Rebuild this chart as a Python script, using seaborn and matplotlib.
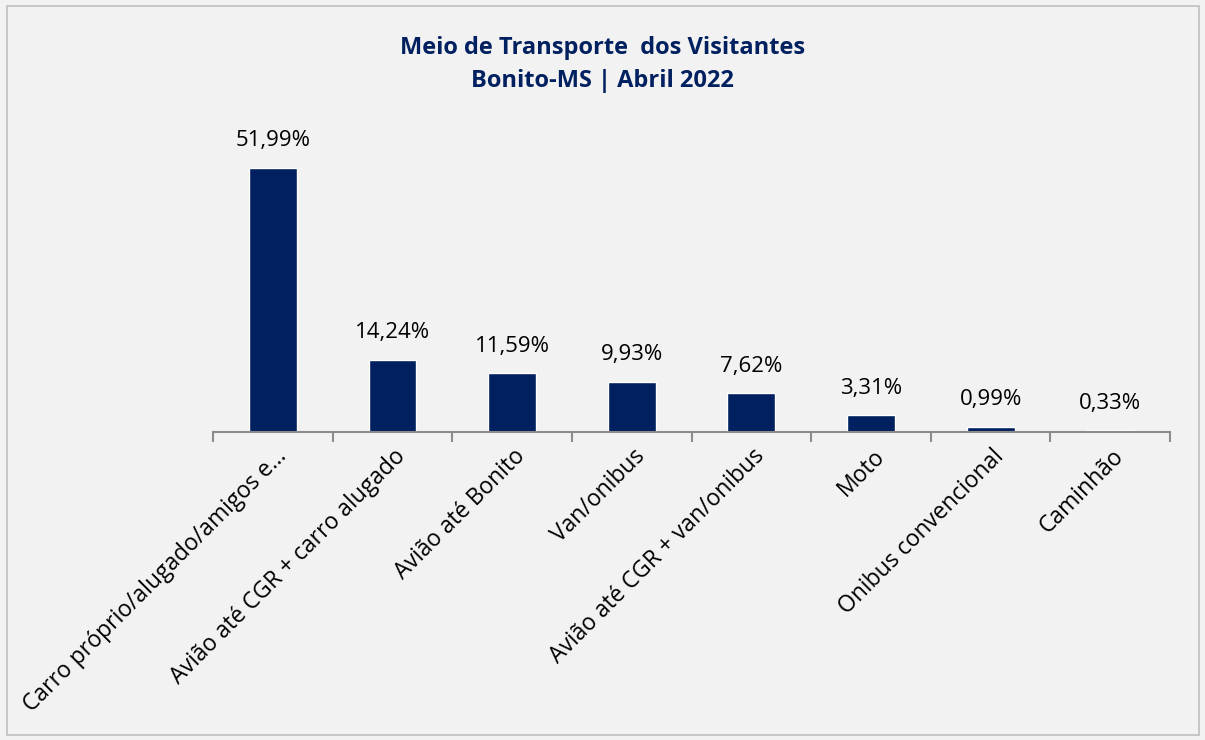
# Imports
import pandas as pd
import seaborn as sns
import matplotlib.pyplot as plt
import matplotlib.transforms as mtransforms
from matplotlib.patches import Rectangle

# Data
categorias = ["Carro próprio/alugado/amigos e...", "Avião até CGR + carro alugado", "Avião até Bonito",
              "Van/onibus", "Avião até CGR + van/onibus", "Moto", "Onibus convencional", "Caminhão"]
percentuais = [51.99, 14.24, 11.59, 9.93, 7.62, 3.31, 0.99, 0.33]

df = pd.DataFrame({'categoria': categorias, 'pct': percentuais})

sns.set_style("white")
plt.rcParams['font.family'] = ['Open Sans', 'DejaVu Sans']

fig = plt.figure(figsize=(12.05, 7.4), dpi=100, facecolor='#f2f2f2')
fig.patches.append(Rectangle((0.006, 0.007), 0.989, 0.985, transform=fig.transFigure,
                             fill=False, edgecolor='#bfbfbf', linewidth=1.2))
ax = fig.add_axes([0.1768, 0.4162, 0.7942, 0.412])
ax.set_facecolor('#f2f2f2')

sns.barplot(data=df, x='categoria', y='pct', color='#002060', width=0.4, saturation=1, ax=ax)

# data labels
for i, v in enumerate(percentuais):
	ax.annotate('{:.2f}%'.format(v).replace('.', ','), (i, v), xytext=(0, 19.5), textcoords='offset points',
	            ha='center', va='center', fontsize=16, color='#000000')

ax.set_ylim(0, 60)
ax.set_xlim(-0.5, len(categorias) - 0.5)
for s in ['top', 'right', 'left']:
	ax.spines[s].set_visible(False)
ax.spines['bottom'].set_color('#8c8c8c')
ax.spines['bottom'].set_linewidth(1.5)
ax.set_yticks([])
ax.set_xlabel('')
ax.set_ylabel('')

# separator ticks between categories
ax.set_xticks([i - 0.5 for i in range(len(categorias) + 1)])
ax.set_xticklabels([])
ax.tick_params(axis='x', which='major', bottom=True, length=7, width=1.5, color='#8c8c8c', direction='out')
ax.set_xticks(range(len(categorias)), minor=True)
ax.set_xticklabels(categorias, minor=True, rotation=45, ha='right', va='center', rotation_mode='anchor',
                   fontsize=16.5, color='#000000')
ax.tick_params(axis='x', which='minor', bottom=True, length=0, pad=15)
shift = mtransforms.ScaledTranslation(10 / 100, 0, fig.dpi_scale_trans)
for lbl in ax.get_xticklabels(minor=True):
	lbl.set_transform(lbl.get_transform() + shift)

fig.text(0.5, 0.935, "Meio de Transporte  dos Visitantes", ha='center', va='center',
         fontsize=17, fontweight='bold', color='#002060')
fig.text(0.5, 0.89, "Bonito-MS | Abril 2022", ha='center', va='center',
         fontsize=17, fontweight='bold', color='#002060')

plt.savefig('out.png', dpi=100, facecolor='#f2f2f2')
